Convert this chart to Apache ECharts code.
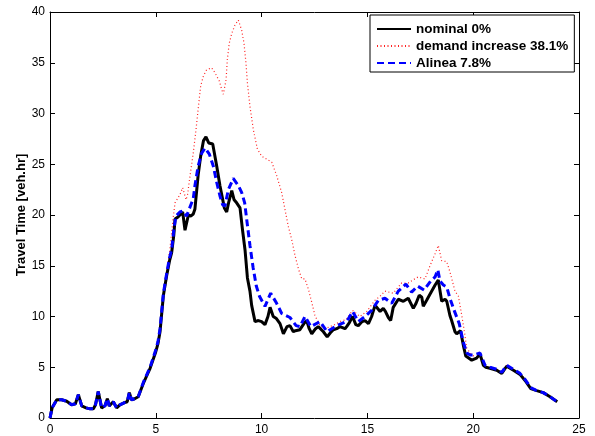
<!DOCTYPE html>
<html>
<head>
<meta charset="utf-8">
<script src="https://cdn.jsdelivr.net/npm/echarts@6/dist/echarts.min.js"></script>
<style>
html,body{margin:0;padding:0;background:#fff;}
#chart{width:595px;height:436px;}
</style>
</head>
<body>
<div id="chart"></div>
<script>
// Axis ticks
const xTicks = [0, 5, 10, 15, 20, 25];
const yTicks = [0, 5, 10, 15, 20, 25, 30, 35, 40];
const yAxisTitle = 'Travel Time [veh.hr]';
const seriesNames = ['nominal 0%', 'demand increase 38.1%', 'Alinea 7.8%'];

// [hour, travel time] — nominal 0%
const nominal = [[0,0],[0.1,1.0],[0.32,1.8],[0.55,1.8],[0.79,1.65],[1.02,1.3],[1.2,1.4],[1.34,2.3],[1.5,1.2],[1.7,1.0],[1.9,0.9],[2.05,0.9],[2.15,1.3],[2.28,2.6],[2.44,1.0],[2.6,1.2],[2.71,1.9],[2.8,1.2],[2.99,1.6],[3.15,1.0],[3.3,1.3],[3.5,1.5],[3.65,1.6],[3.75,2.5],[3.85,1.8],[4.0,1.9],[4.17,2.1],[4.41,3.4],[4.6,4.3],[4.73,4.9],[4.98,6.4],[5.1,7.3],[5.2,8.5],[5.36,12.1],[5.51,14.0],[5.65,15.5],[5.75,16.3],[5.85,18.0],[5.91,19.6],[6.05,19.8],[6.14,19.8],[6.27,20.3],[6.38,18.5],[6.54,20.0],[6.65,19.9],[6.77,20.1],[6.85,20.6],[7.0,23.9],[7.12,25.8],[7.25,27.3],[7.37,27.7],[7.5,27.1],[7.69,27.0],[7.88,24.8],[8.03,22.9],[8.24,20.7],[8.35,20.3],[8.45,21.3],[8.59,22.4],[8.7,21.5],[8.82,21.2],[8.98,20.7],[9.1,18.5],[9.22,16.5],[9.33,13.8],[9.45,12.5],[9.53,11.1],[9.69,9.5],[9.85,9.6],[10.0,9.5],[10.16,9.2],[10.3,10.0],[10.4,10.9],[10.55,10.0],[10.7,9.8],[10.87,9.3],[11.03,8.3],[11.2,9.0],[11.34,9.1],[11.5,8.5],[11.6,8.6],[11.81,8.7],[12.0,9.3],[12.13,9.6],[12.25,8.8],[12.37,8.3],[12.55,8.8],[12.68,9.0],[12.92,8.5],[13.1,8.0],[13.25,8.4],[13.39,8.7],[13.55,8.8],[13.7,9.0],[13.94,8.8],[14.02,9.0],[14.15,9.4],[14.3,10.0],[14.45,9.2],[14.57,9.1],[14.75,9.5],[14.89,9.6],[15.05,9.3],[15.2,10.0],[15.36,11.1],[15.6,10.5],[15.75,10.8],[15.85,10.5],[15.99,9.9],[16.1,9.6],[16.22,10.9],[16.46,11.7],[16.7,11.5],[16.93,11.8],[17.17,10.8],[17.3,11.3],[17.45,12.1],[17.57,11.9],[17.64,11.0],[17.8,11.6],[17.93,12.1],[18.2,13.1],[18.35,13.6],[18.45,12.3],[18.51,11.5],[18.67,11.7],[18.75,11.5],[18.9,10.1],[18.98,9.6],[19.14,8.5],[19.22,8.3],[19.3,8.2],[19.4,8.6],[19.46,8.6],[19.55,7.0],[19.65,6.1],[19.93,5.7],[20.16,5.9],[20.32,6.3],[20.48,5.2],[20.6,5.0],[20.79,4.9],[21.11,4.7],[21.35,4.4],[21.58,5.1],[21.9,4.7],[22.21,4.3],[22.45,3.7],[22.72,2.9],[23.0,2.7],[23.31,2.5],[23.63,2.1],[23.97,1.6]];

// [hour, travel time] — demand increase 38.1%
const demandIncrease = [[0,0],[0.1,1.0],[0.32,1.8],[0.55,1.8],[0.79,1.65],[1.02,1.3],[1.2,1.4],[1.34,2.3],[1.5,1.2],[1.7,1.0],[1.9,0.9],[2.05,0.9],[2.15,1.3],[2.28,2.6],[2.44,1.0],[2.6,1.2],[2.71,1.9],[2.8,1.2],[2.99,1.6],[3.15,1.0],[3.3,1.3],[3.5,1.5],[3.65,1.6],[3.75,2.5],[3.85,1.8],[4.0,1.9],[4.17,2.1],[4.41,3.4],[4.6,4.3],[4.73,4.9],[4.98,6.4],[5.1,7.3],[5.2,8.6],[5.36,12.3],[5.51,14.3],[5.67,16.7],[5.83,19.9],[5.91,21.2],[6.14,22.0],[6.27,22.7],[6.43,21.5],[6.5,22.0],[6.62,23.9],[6.77,26.1],[6.9,28.4],[7.0,30.4],[7.12,32.7],[7.25,33.7],[7.4,34.3],[7.64,34.5],[7.8,34.0],[8.0,33.2],[8.11,32.4],[8.19,31.9],[8.32,33.3],[8.38,35.3],[8.47,36.9],[8.59,37.9],[8.74,38.7],[8.9,39.2],[9.06,38.2],[9.17,36.9],[9.26,35.0],[9.33,33.0],[9.45,30.7],[9.61,28.4],[9.8,26.5],[10.0,25.8],[10.24,25.5],[10.48,25.2],[10.71,23.9],[10.95,22.2],[11.1,20.6],[11.26,18.9],[11.42,17.6],[11.58,16.0],[11.74,14.7],[11.9,13.7],[12.05,13.7],[12.21,12.7],[12.37,11.4],[12.52,10.1],[12.76,9.1],[13.0,8.8],[13.23,9.0],[13.45,9.2],[13.7,9.5],[14.0,9.7],[14.3,10.6],[14.65,10.0],[14.97,10.5],[15.36,11.6],[15.6,12.0],[15.83,12.5],[16.22,12.3],[16.62,13.3],[16.93,13.3],[17.15,13.6],[17.4,13.9],[17.72,13.7],[17.96,15.0],[18.2,16.2],[18.35,17.0],[18.51,15.5],[18.75,15.4],[18.9,14.4],[19.14,12.5],[19.3,12.0],[19.46,10.1],[19.6,8.3],[19.69,6.9],[19.93,6.2],[20.16,6.0],[20.32,6.4],[20.48,5.3],[20.6,5.1],[20.79,5.0],[21.11,4.8],[21.35,4.5],[21.58,5.2],[21.9,4.8],[22.21,4.4],[22.45,3.8],[22.72,3.0],[23.0,2.7],[23.31,2.5],[23.63,2.1],[23.97,1.6]];

// [hour, travel time] — Alinea 7.8%
const alinea = [[0,0],[0.1,1.0],[0.32,1.8],[0.55,1.8],[0.79,1.65],[1.02,1.3],[1.2,1.4],[1.34,2.3],[1.5,1.2],[1.7,1.0],[1.9,0.9],[2.05,0.9],[2.15,1.3],[2.28,2.6],[2.44,1.0],[2.6,1.2],[2.71,1.9],[2.8,1.2],[2.99,1.6],[3.15,1.0],[3.3,1.3],[3.5,1.5],[3.65,1.6],[3.75,2.5],[3.85,1.8],[4.0,1.9],[4.17,2.1],[4.41,3.5],[4.6,4.4],[4.73,5.0],[4.98,6.6],[5.1,7.5],[5.2,8.8],[5.36,12.3],[5.51,14.2],[5.65,15.8],[5.75,16.6],[5.85,18.5],[5.95,19.9],[6.14,20.3],[6.27,20.4],[6.46,19.9],[6.62,20.8],[6.77,21.6],[6.85,22.9],[7.0,24.8],[7.17,26.1],[7.33,26.6],[7.53,26.0],[7.72,24.8],[7.88,23.2],[8.03,21.9],[8.16,21.0],[8.27,20.9],[8.43,22.5],[8.66,23.6],[8.9,22.9],[9.06,22.2],[9.2,21.2],[9.3,19.5],[9.45,17.0],[9.6,14.8],[9.75,13.0],[9.9,12.0],[10.16,11.0],[10.43,12.3],[10.71,11.3],[10.95,10.3],[11.34,9.9],[11.63,9.1],[11.81,9.0],[12.05,10.0],[12.33,9.0],[12.76,9.5],[13.1,8.5],[13.55,9.1],[14.02,9.5],[14.3,10.5],[14.57,9.5],[14.89,10.0],[15.2,10.6],[15.52,11.6],[15.83,11.8],[16.15,11.3],[16.46,12.5],[16.82,13.2],[17.09,12.4],[17.37,13.0],[17.68,12.6],[17.99,13.5],[18.2,13.9],[18.33,14.6],[18.43,13.5],[18.59,13.1],[18.75,12.9],[18.9,11.8],[19.1,10.6],[19.34,9.3],[19.53,7.5],[19.7,6.4],[19.85,6.2],[20.0,6.2],[20.32,6.4],[20.56,5.2],[20.79,5.0],[21.11,4.8],[21.35,4.5],[21.58,5.2],[21.9,4.8],[22.21,4.4],[22.45,3.8],[22.72,3.0],[23.0,2.7],[23.31,2.5],[23.63,2.1],[23.97,1.6]];

const FONT = 'Liberation Sans, Arial, Helvetica, sans-serif';
const chart = echarts.init(document.getElementById('chart'), null, {renderer: 'canvas'});

const boxAxis = {
  axisLine: {show: true, onZero: false, lineStyle: {color: '#000', width: 1}},
  axisTick: {show: true, inside: true, length: 5, lineStyle: {color: '#000', width: 1}},
  splitLine: {show: false}
};

chart.setOption({
  animation: false,
  backgroundColor: '#fff',
  grid: {left: 50, right: 16, top: 12, bottom: 16, containLabel: false},
  legend: {
    orient: 'vertical',
    left: 370, top: 15,
    data: seriesNames,
    itemWidth: 34, itemHeight: 14, itemGap: 3,
    padding: [7, 6, 2, 6],
    backgroundColor: '#fff',
    borderColor: '#000', borderWidth: 1, borderRadius: 0,
    itemStyle: {color: 'transparent', borderColor: 'transparent', borderWidth: 0},
    textStyle: {fontFamily: FONT, fontWeight: 'bold', fontSize: 13.5, color: '#000'}
  },
  xAxis: [
    Object.assign({type: 'value', min: xTicks[0], max: xTicks[xTicks.length-1], interval: 5, position: 'bottom',
      axisLabel: {show: true, color: '#000', fontFamily: FONT, fontSize: 12, margin: 6}}, boxAxis),
    Object.assign({type: 'value', min: xTicks[0], max: xTicks[xTicks.length-1], interval: 5, position: 'top',
      axisLabel: {show: false}}, boxAxis)
  ],
  yAxis: [
    Object.assign({type: 'value', min: yTicks[0], max: yTicks[yTicks.length-1], interval: 5, position: 'left',
      name: yAxisTitle, nameLocation: 'middle', nameGap: 22, nameMoveOverlap: false,
      nameTextStyle: {fontFamily: FONT, fontWeight: 'bold', fontSize: 13, color: '#000'},
      axisLabel: {show: true, color: '#000', fontFamily: FONT, fontSize: 12, margin: 5}}, boxAxis),
    Object.assign({type: 'value', min: yTicks[0], max: yTicks[yTicks.length-1], interval: 5, position: 'right',
      axisLabel: {show: false}}, boxAxis)
  ],
  series: [
    {
      name: seriesNames[0], type: 'line', data: nominal, showSymbol: false, symbol: 'none',
      lineStyle: {color: '#000', width: 3, type: 'solid'}, itemStyle: {color: '#000'}, z: 3
    },
    {
      name: seriesNames[1], type: 'line', data: demandIncrease, showSymbol: false, symbol: 'none',
      lineStyle: {color: '#ff2020', width: 1.2, type: [1, 2.5]}, itemStyle: {color: '#ff0000'}, z: 2
    },
    {
      name: seriesNames[2], type: 'line', data: alinea, showSymbol: false, symbol: 'none',
      lineStyle: {color: '#0000ff', width: 3, type: [7, 4]}, itemStyle: {color: '#0000ff'}, z: 4
    }
  ]
});
</script>
</body>
</html>
